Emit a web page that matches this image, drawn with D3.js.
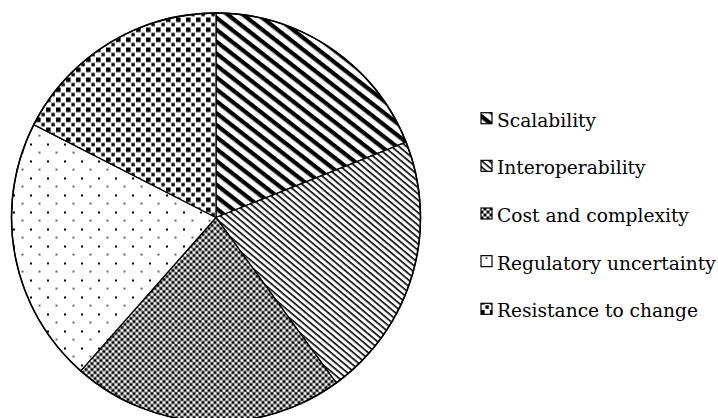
<!DOCTYPE html>
<html><head><meta charset="utf-8">
<script src="https://cdn.jsdelivr.net/npm/d3@7"></script>
<style>html,body{margin:0;padding:0;background:#fff;}svg{display:block;}</style>
</head><body>
<svg id="chart" width="718" height="418"></svg>
<script>
const categories = ["Scalability", "Interoperability", "Cost and complexity", "Regulatory uncertainty", "Resistance to change"];
const values = [19, 21, 21.5, 21, 17.5];
const patternIds = ["pScal", "pInter", "pCost", "pReg", "pRes"];

const svg = d3.select("#chart");
const cx = 216, cy = 217.5, r = 204.5;
const defs = svg.append("defs");

function pat(id, w, h, transform) {
  const p = defs.append("pattern").attr("id", id).attr("patternUnits", "userSpaceOnUse")
    .attr("width", w).attr("height", h);
  if (transform) p.attr("patternTransform", transform);
  p.append("rect").attr("width", w).attr("height", h).attr("fill", "#fff");
  return p;
}
// Scalability: thick diagonal stripes
pat("pScal", 9, 9.4, "rotate(38)").append("rect").attr("y", 0).attr("width", 9).attr("height", 4.2).attr("fill", "#000");
// Interoperability: thin diagonal lines
pat("pInter", 5, 4.8, "rotate(40)").append("rect").attr("y", 0).attr("width", 5).attr("height", 1.6).attr("fill", "#000");
// Cost and complexity: checker with grey grid
const pc = pat("pCost", 6, 6);
pc.append("rect").attr("x", 0).attr("y", 0).attr("width", 6).attr("height", 1).attr("fill", "#888");
pc.append("rect").attr("x", 0).attr("y", 0).attr("width", 1).attr("height", 6).attr("fill", "#888");
pc.append("rect").attr("x", 1).attr("y", 1).attr("width", 2.5).attr("height", 2.5).attr("fill", "#000");
pc.append("rect").attr("x", 3.5).attr("y", 3.5).attr("width", 2.5).attr("height", 2.5).attr("fill", "#000");
// Regulatory uncertainty: sparse dots
const pr = pat("pReg", 17, 17);
pr.append("rect").attr("x", 1).attr("y", 11).attr("width", 2).attr("height", 2).attr("fill", "#000");
pr.append("rect").attr("x", 9.5).attr("y", 2.5).attr("width", 2).attr("height", 1.2).attr("fill", "#000");
// Resistance to change: staggered squares
const ps = pat("pRes", 10, 10);
ps.append("rect").attr("x", 0).attr("y", 0).attr("width", 4.6).attr("height", 4.6).attr("fill", "#000");
ps.append("rect").attr("x", 5.4).attr("y", 5.4).attr("width", 3.4).attr("height", 3.4).attr("fill", "#000");

const pie = d3.pie().sort(null).value(d => d);
const arc = d3.arc().innerRadius(0).outerRadius(r);
const arcs = pie(values);

svg.append("g").selectAll("path").data(arcs).enter().append("path")
  .attr("d", d => arc(d))
  .attr("transform", `translate(${cx},${cy})`)
  .attr("fill", (d, i) => `url(#${patternIds[i]})`)
  .attr("stroke", "#000").attr("stroke-width", 1.3).attr("stroke-linejoin", "round");

svg.append("circle").attr("cx", cx).attr("cy", cy).attr("r", r)
  .attr("fill", "none").attr("stroke", "#000").attr("stroke-width", 1.5);

// legend
const legendY = d3.scalePoint().domain(categories).range([126.7, 317.3]);
const lg = svg.append("g").selectAll("g").data(categories).enter().append("g");
lg.append("rect").attr("x", 481).attr("y", d => legendY(d) - 14).attr("width", 11).attr("height", 11)
  .attr("fill", (d, i) => `url(#${patternIds[i]})`).attr("stroke", "#000").attr("stroke-width", 1.2);
const texts = lg.append("text").attr("x", 497).attr("y", d => legendY(d))
  .style("font-family", "'DejaVu Serif', serif")
  .style("font-size", "24px")
  .attr("fill", "#000").text(d => d);
// fit the widest label to the reference width (~219px)
let maxLen = 0;
texts.each(function () { maxLen = Math.max(maxLen, this.getComputedTextLength()); });
if (maxLen > 0) {
  const fs = Math.min(24, 24 * 219 / maxLen);
  texts.style("font-size", fs + "px");
}
</script>
</body></html>
